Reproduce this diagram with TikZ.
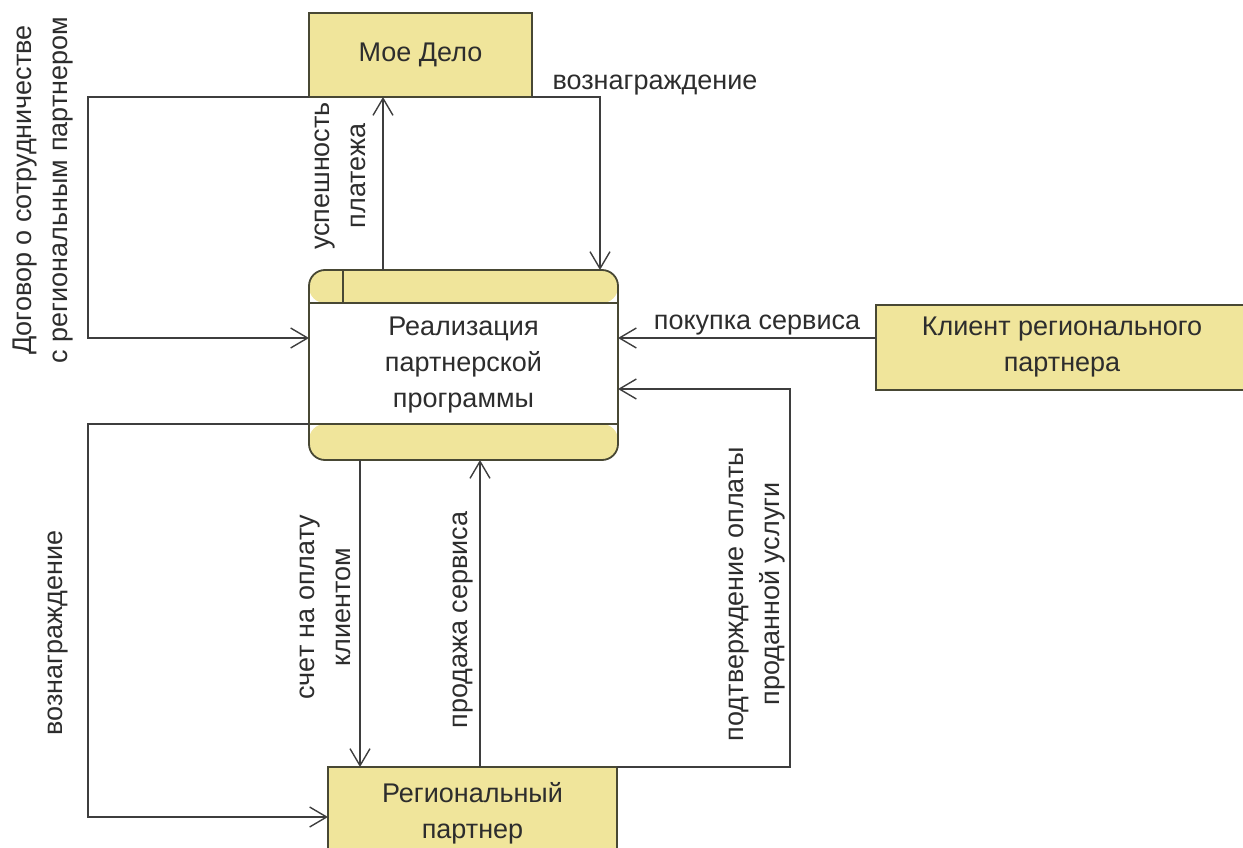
\documentclass[tikz,border=0pt]{standalone}
\usepackage{fontspec}
\setmainfont{Liberation Sans}
\usetikzlibrary{arrows.meta}
\definecolor{boxfill}{RGB}{240,229,155}
\definecolor{boxline}{RGB}{72,72,52}
\definecolor{flowline}{RGB}{62,62,62}
\definecolor{txt}{RGB}{45,45,45}
\begin{document}
\begin{tikzpicture}[x=1pt,y=1pt,
    every node/.style={inner sep=0pt, outer sep=0pt, text=txt,
      font=\fontsize{27pt}{36pt}\selectfont},
    extbox/.style={draw=boxline, line width=1.8pt, fill=boxfill, align=center},
    procbox/.style={draw=boxline, line width=1.8pt, fill=white, rounded corners=16pt,
      minimum width=309pt, minimum height=190pt, align=center,
      path picture={
        \fill[boxfill] (path picture bounding box.north west) rectangle
          ([yshift=-33pt]path picture bounding box.north east);
        \fill[boxfill] (path picture bounding box.south west) rectangle
          ([yshift=36pt]path picture bounding box.south east);}},
    flow/.style={draw=flowline, line width=1.4pt,
      -{Straight Barb[length=17pt,width=20pt,line width=1.4pt]}},
    flowlbl/.style={align=center, rotate=90}]
    \useasboundingbox (0,0) rectangle (1243,-848);
    % external entities
    \node[extbox, minimum width=223pt, minimum height=84pt] (moe) at (420.5,-55) {Мое Дело};
    \node[extbox, minimum width=372pt, minimum height=85pt] (client) at (1062,-347.5) {Клиент регионального\\партнера};
    \node[extbox, minimum width=289pt, minimum height=92pt] (partner) at (472.5,-813) {Региональный\\партнер};
    % process
    \node[procbox] (proc) at (463.5,-365) {Реализация\\партнерской\\программы};
    \draw[boxline, line width=1.6pt] ([yshift=-33pt]proc.north west) -- ([yshift=-33pt]proc.north east);
    \draw[boxline, line width=1.6pt] ([yshift=36pt]proc.south west) -- ([yshift=36pt]proc.south east);
    \draw[boxline, line width=1.6pt] ([xshift=34pt]proc.north west) -- ([xshift=34pt,yshift=-33pt]proc.north west);
    % flows
    \draw[flow] (moe.south west) -| (88,-338) -- (proc.west |- 0,-338);
    \draw[flow] (moe.south east) -| (proc.north -| 600,0);
    \draw[flow] (proc.north -| 383,0) -- (moe.south -| 383,0);
    \draw[flow] (client.west |- 0,-338) -- (proc.east |- 0,-338);
    \draw[flow] (partner.north east) -| (790,-389) -- (proc.east |- 0,-389);
    \draw[flow] (proc.south -| 360,0) -- (partner.north -| 360,0);
    \draw[flow] (partner.north -| 480,0) -- (proc.south -| 480,0);
    \draw[flow] (proc.west |- 0,-424) -| (88,-817) -- (partner.west |- 0,-817);
    % labels
    \node[flowlbl] (lblDogovor) at (43,-190) {Договор о сотрудничестве\\с региональным партнером};
    \node[flowlbl] (lblUspeh) at (340,-176) {успешность\\платежа};
    \node (lblVozTop) at (655,-85) {вознаграждение};
    \node (lblPokupka) at (757,-325) {покупка сервиса};
    \node[flowlbl] (lblVozLeft) at (58,-633) {вознаграждение};
    \node[flowlbl] (lblSchet) at (325,-607) {счет на оплату\\клиентом};
    \node[flowlbl] (lblProdazha) at (463,-620) {продажа сервиса};
    \node[flowlbl] (lblPodtv) at (757,-594) {подтверждение оплаты\\проданной услуги};
\end{tikzpicture}
\end{document}
